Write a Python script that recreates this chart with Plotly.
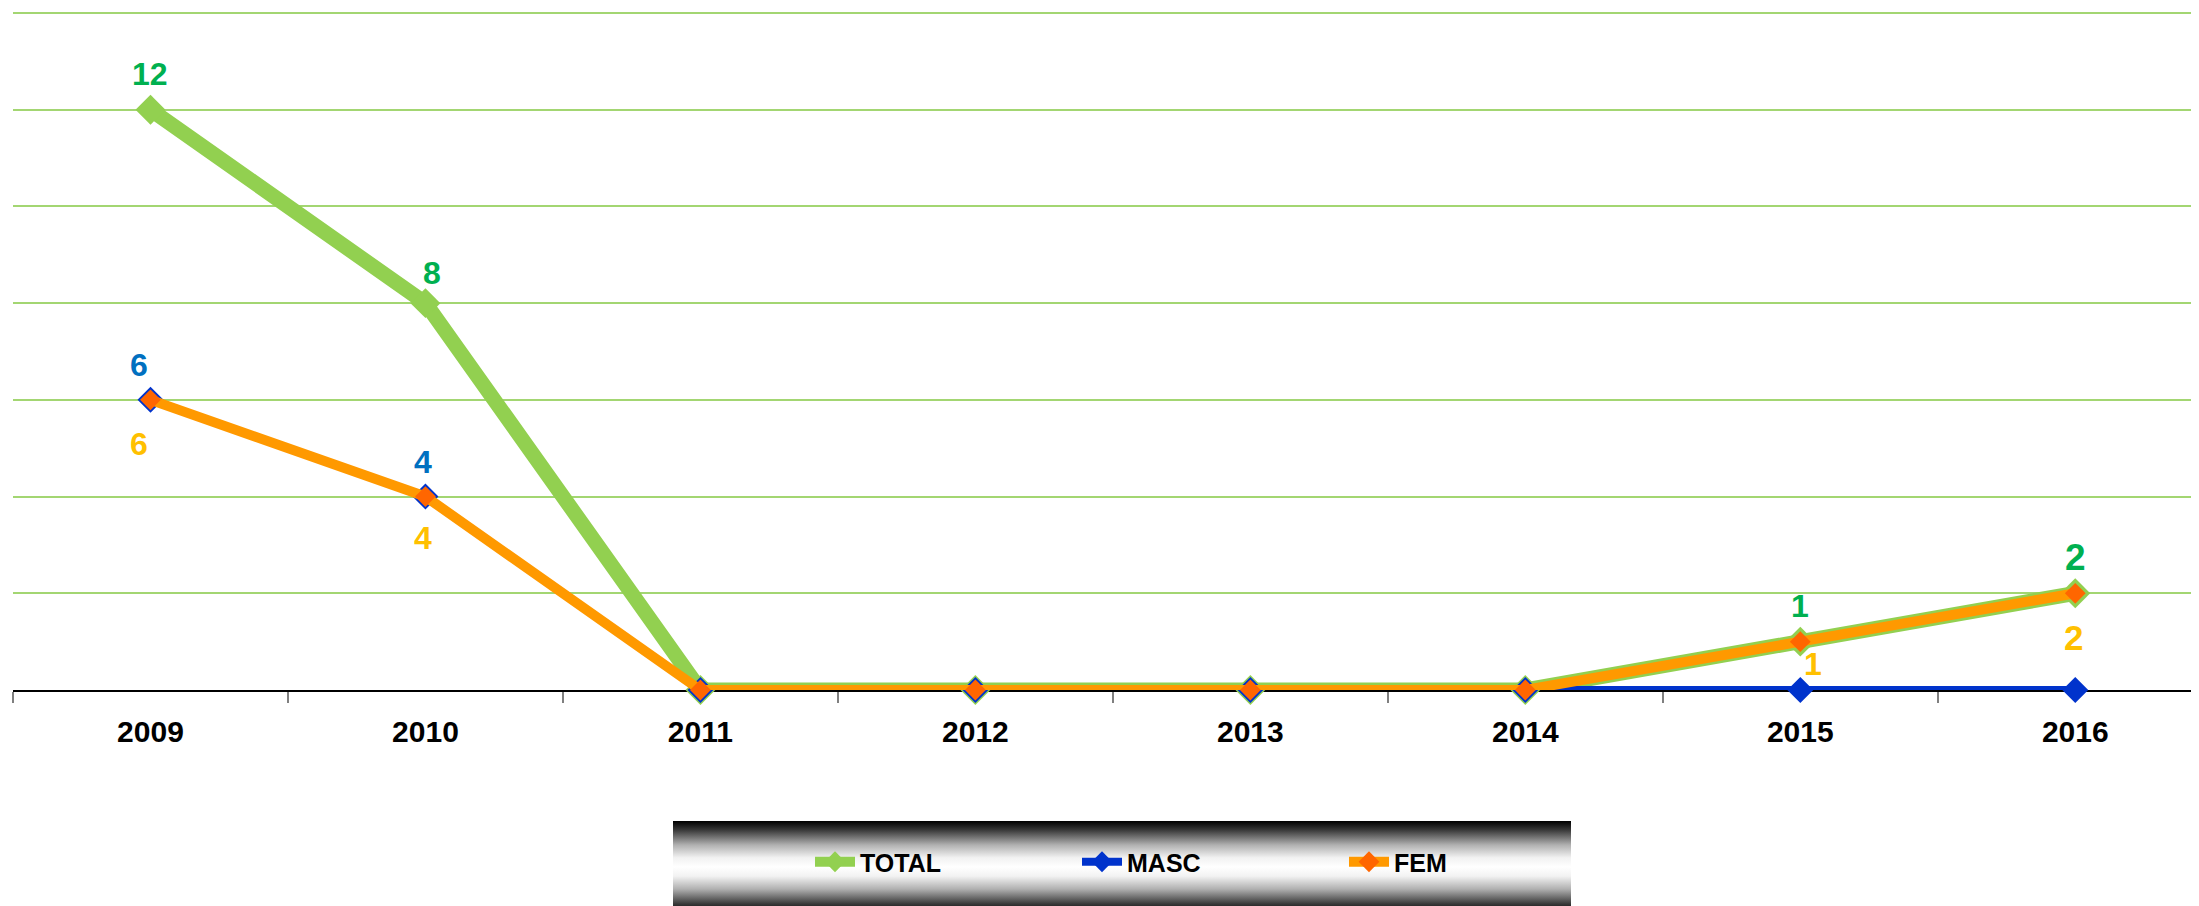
import base64
import plotly.graph_objects as go

years = ["2009", "2010", "2011", "2012", "2013", "2014", "2015", "2016"]
total = [12, 8, 0, 0, 0, 0, 1, 2]
masc = [6, 4, 0, 0, 0, 0, 0, 0]
fem = [6, 4, 0, 0, 0, 0, 1, 2]
series_names = ["TOTAL", "MASC", "FEM"]

FONT = "Liberation Sans, Arial, sans-serif"
x = list(range(len(years)))

# page body has an 8px margin; figure coords = page coords - 8
OFF = 8
W, H = 2199 - OFF, 906 - OFF
ml, mt = 13 - OFF, 0
plot_bottom = 690 - OFF
mb = H - plot_bottom
ph = plot_bottom - mt
unit = (690 - 13) / 14.0
ytop = ph / unit

def py(Y):
    return (plot_bottom - (Y - OFF)) / ph
def px(X):
    return ((X - OFF) - ml) / (W - ml)

fig = go.Figure()
fig.add_trace(go.Scatter(
    x=x, y=total, name=series_names[0], mode="lines+markers",
    line=dict(color="#92D050", width=15),
    marker=dict(symbol="diamond", size=23, color="#92D050"),
    cliponaxis=False))
fig.add_trace(go.Scatter(
    x=x, y=masc, name=series_names[1], mode="lines+markers",
    line=dict(color="#0033CC", width=8),
    marker=dict(symbol="diamond", size=20, color="#0033CC"),
    cliponaxis=False))
fig.add_trace(go.Scatter(
    x=x, y=fem, name=series_names[2], mode="lines+markers",
    line=dict(color="#FF9900", width=10),
    marker=dict(symbol="diamond", size=16, color="#FF6600"),
    cliponaxis=False))

ann = []
for i, v in enumerate(total):
    if v:
        ann.append(dict(x=i, y=v, text=str(v), showarrow=False,
                        yshift=30 if i == 1 else 36,
                        xshift=7 if i == 1 else 0,
                        font=dict(family=FONT, size=37 if i == 7 else 32, color="#00B050", weight="bold")))
for i, v in enumerate(masc):
    if v:
        ann.append(dict(x=i, y=v, text=str(v), showarrow=False, yshift=35,
                        xshift=-11 if i == 0 else -2,
                        font=dict(family=FONT, size=32, color="#0070C0", weight="bold")))
for i, v in enumerate(fem):
    if v:
        ann.append(dict(x=i, y=v, text=str(v), showarrow=False,
                        yshift=-22 if i == 6 else (-41 if i == 1 else -44),
                        xshift=-11 if i == 0 else (13 if i == 6 else -2),
                        font=dict(family=FONT, size=35 if i == 7 else 32, color="#FFC000", weight="bold")))

svg = """<svg xmlns='http://www.w3.org/2000/svg' width='100' height='100' preserveAspectRatio='none'>
<defs><linearGradient id='g' x1='0' y1='0' x2='0' y2='1'>
<stop offset='0' stop-color='#000'/><stop offset='0.1' stop-color='#3a3a3a'/>
<stop offset='0.26' stop-color='#b0b0b0'/><stop offset='0.4' stop-color='#f2f2f2'/>
<stop offset='0.5' stop-color='#fff'/><stop offset='0.6' stop-color='#f2f2f2'/>
<stop offset='0.74' stop-color='#b0b0b0'/><stop offset='0.9' stop-color='#3a3a3a'/>
<stop offset='1' stop-color='#000'/></linearGradient></defs>
<rect width='100' height='100' fill='url(#g)'/></svg>"""
src = "data:image/svg+xml;base64," + base64.b64encode(svg.encode()).decode()

fig.add_layout_image(dict(source=src, xref="paper", yref="paper",
                          x=px(673), y=py(821), sizex=px(1571) - px(673), sizey=py(821) - py(913),
                          xanchor="left", yanchor="top", sizing="stretch", layer="below"))

fig.update_layout(
    width=W, height=H,
    margin=dict(l=ml, r=0, t=mt, b=mb, autoexpand=False),
    paper_bgcolor="white", plot_bgcolor="white",
    showlegend=True,
    legend=dict(orientation="h", x=px(810), y=py(862), xanchor="left", yanchor="middle",
                bgcolor="rgba(0,0,0,0)", entrywidth=212, entrywidthmode="pixels",
                font=dict(family=FONT, size=25, color="black", weight="bold"),
                itemwidth=40, tracegroupgap=0),
    annotations=ann,
    xaxis=dict(range=[-0.5, 7.45], tickvals=x, ticktext=years, ticks="",
               showgrid=False, zeroline=False, showline=True, linecolor="black", linewidth=2,
               layer="below traces", ticklabelstandoff=14,
               tickfont=dict(family=FONT, size=30, color="black", weight="bold"),
               minor=dict(tickvals=[i - 0.5 for i in x], ticks="outside", ticklen=11,
                          tickcolor="#808080", tickwidth=2, showgrid=False)),
    yaxis=dict(range=[0, ytop], tickvals=[2, 4, 6, 8, 10, 12, 14], showticklabels=False, showgrid=True,
               gridcolor="#A3D672", gridwidth=1.5, zeroline=False, showline=False),
    font=dict(family=FONT),
)

fig.write_html("out.html")
